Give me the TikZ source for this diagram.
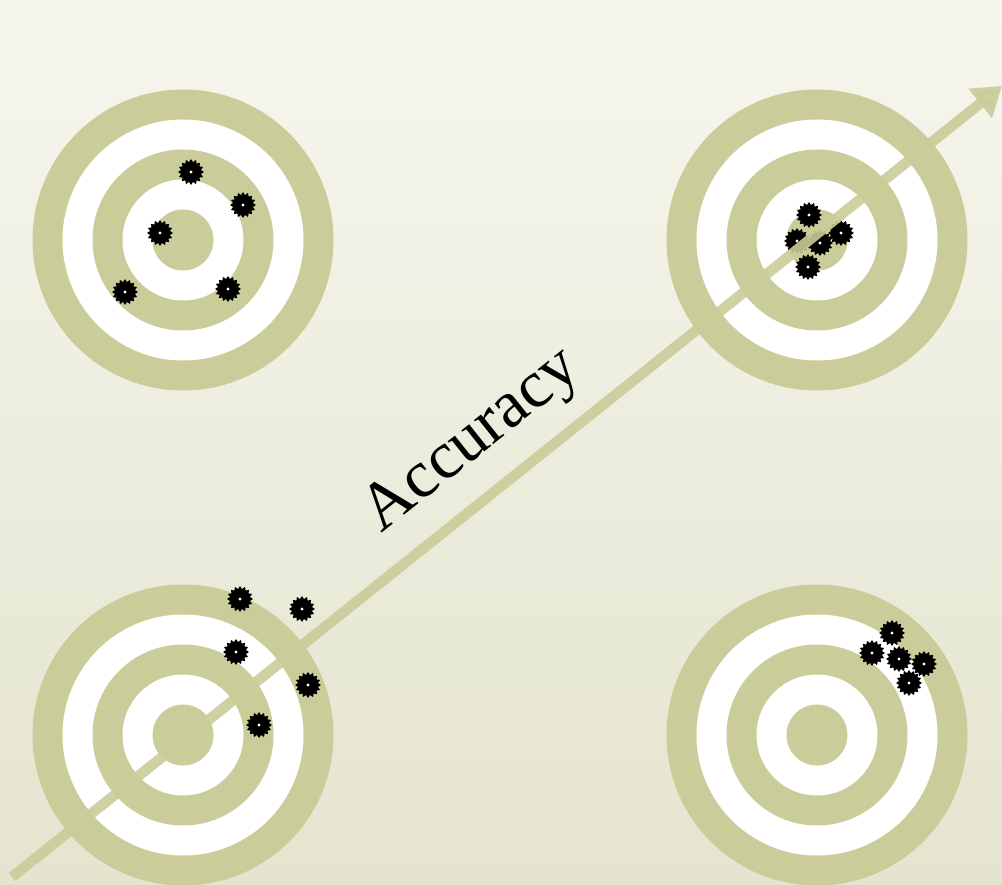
\documentclass[tikz,border=0pt]{standalone}
\usepackage{fontspec}
\setmainfont{Liberation Serif}
\usetikzlibrary{shapes.geometric,arrows.meta}
\definecolor{ring}{HTML}{CACC99}
\definecolor{bgtop}{HTML}{F6F6EE}
\definecolor{bgbot}{HTML}{E4E4CF}
\begin{document}
\begin{tikzpicture}[x=1pt,y=-1pt,
  band/.style={circle, inner sep=0pt, draw=none, minimum size=#1},
  hole/.style={star, star points=16, star point ratio=1.28, minimum size=26pt, inner sep=0pt, fill=black,
    path picture={\fill[white] (path picture bounding box.center) circle (1.6pt);}},
  accarrow/.style={draw=ring, line width=10.5pt, opacity=0.9, -{Triangle[length=28pt,width=36pt]}},
  label/.style={font=\fontsize{67}{80}\selectfont, text=black, inner sep=0pt}
]
\fill[top color=bgtop, bottom color=bgbot] (0,0) rectangle (1002,885);
\useasboundingbox (0,0) rectangle (1002,885);

\foreach \n/\cx/\cy in {a/183/240, b/817/240, c/183/735, d/817/735} {
  \node[band=301pt, fill=ring] (\n1) at (\cx,\cy) {};
  \node[band=241pt, fill=white] (\n2) at (\cx,\cy) {};
  \node[band=181pt, fill=ring] (\n3) at (\cx,\cy) {};
  \node[band=121pt, fill=white] (\n4) at (\cx,\cy) {};
  \node[band=61pt, fill=ring] (\n5) at (\cx,\cy) {};
}

% holes, top-left target
\node[hole] (ha1) at (191,172) {};
\node[hole] (ha2) at (243,205) {};
\node[hole] (ha3) at (160,233) {};
\node[hole] (ha4) at (125,292) {};
\node[hole] (ha5) at (228,289) {};
% holes, top-right target
\node[hole] (hb1) at (809,215) {};
\node[hole] (hb2) at (797,241) {};
\node[hole] (hb3) at (841,233) {};
\node[hole] (hb4) at (820,243) {};
\node[hole] (hb5) at (808,267) {};
% holes, bottom-left target
\node[hole] (hc1) at (240,599) {};
\node[hole] (hc2) at (302,609) {};
\node[hole] (hc3) at (236,652) {};
\node[hole] (hc4) at (308,685) {};
\node[hole] (hc5) at (259,725) {};
% holes, bottom-right target
\node[hole] (hd1) at (892,633) {};
\node[hole] (hd2) at (872,653) {};
\node[hole] (hd3) at (899,659) {};
\node[hole] (hd4) at (924,664) {};
\node[hole] (hd5) at (909,683) {};

\coordinate (as) at (12,877);
\coordinate (ae) at (1002,86);
\draw[accarrow] (as) -- (ae);

\node[label, rotate=38.55] (acc) at (473,442) {Accuracy};
\end{tikzpicture}
\end{document}
